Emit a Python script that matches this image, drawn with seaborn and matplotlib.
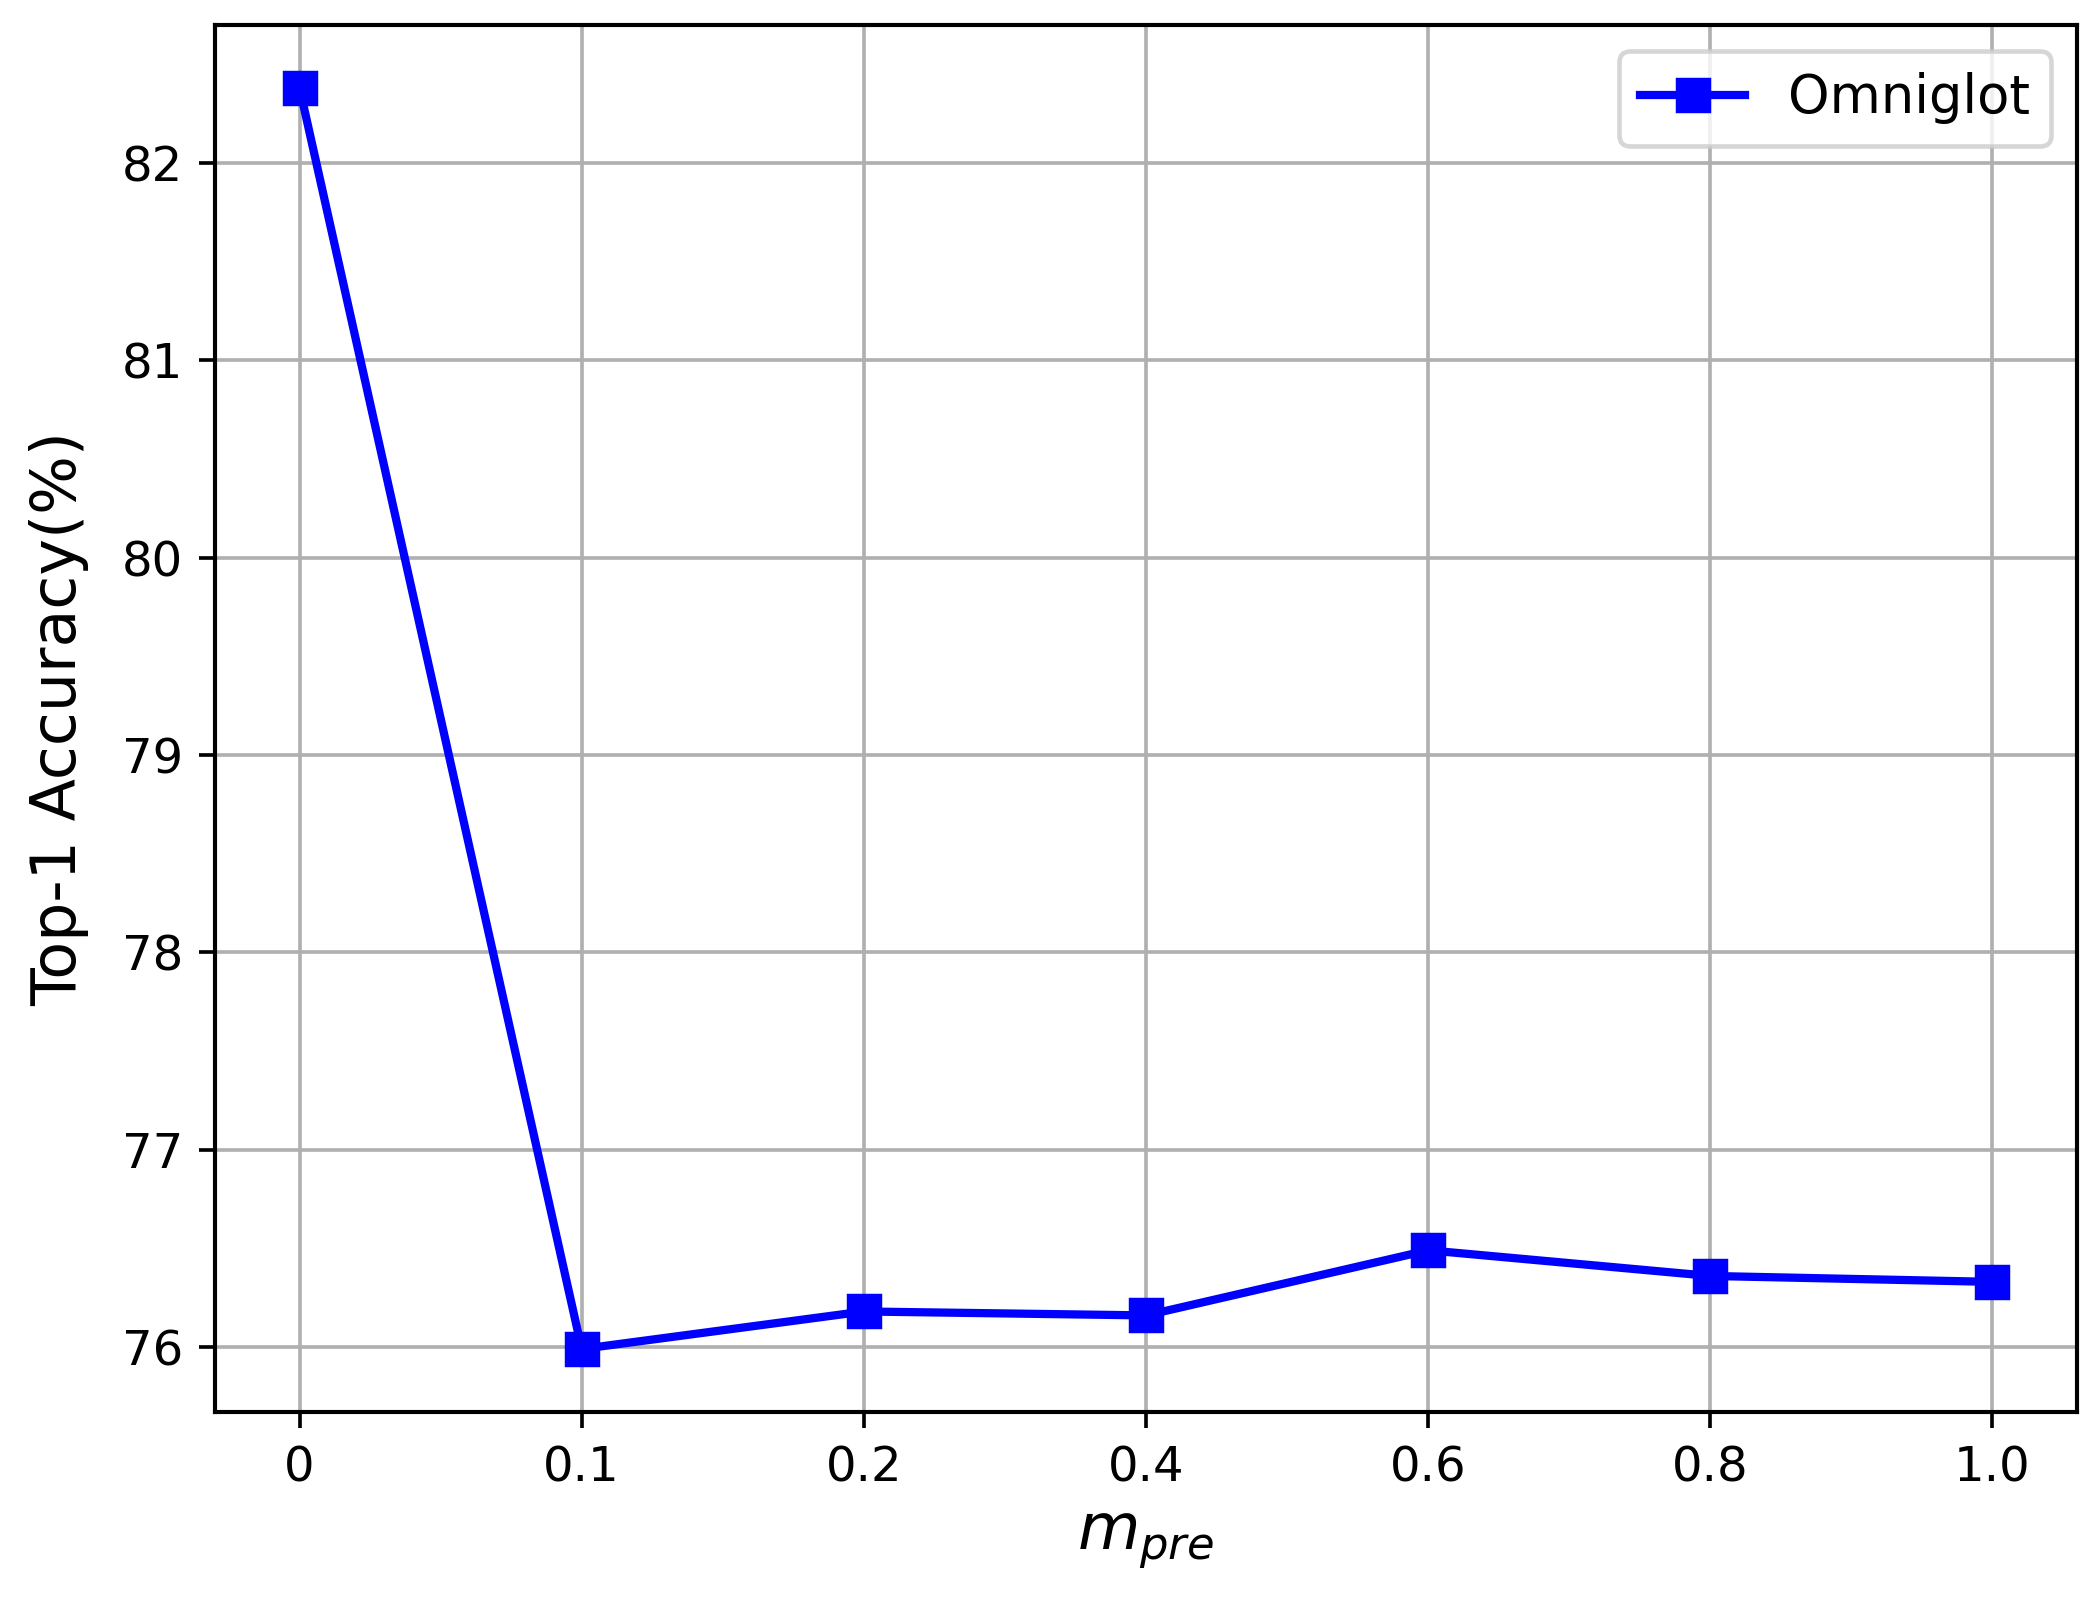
import matplotlib
matplotlib.use("Agg")
import matplotlib.pyplot as plt
import seaborn as sns
import pandas as pd
import numpy as np

# Data
x_labels = ["0", "0.1", "0.2", "0.4", "0.6", "0.8", "1.0"]
accuracy = [82.38, 75.99, 76.18, 76.16, 76.49, 76.36, 76.33]
y_ticks = [76, 77, 78, 79, 80, 81, 82]
series_name = "Omniglot"

df = pd.DataFrame({"pos": np.arange(len(x_labels)), "acc": accuracy, "dataset": series_name})

plt.rcParams["font.family"] = ["DejaVu Sans"]
fig = plt.figure(figsize=(2097 / 330, 1602 / 330), dpi=330)
ax = fig.add_axes([0.1025, 0.1186, 0.888, 0.8658])

sns.lineplot(data=df, x="pos", y="acc", ax=ax, color="blue", marker="s",
             markersize=7, linewidth=1.8, markeredgecolor="blue", sort=False,
             label=series_name, legend=False)

ax.set_xticks(np.arange(len(x_labels)))
ax.set_xticklabels(x_labels, fontsize=10.5)
ax.tick_params(axis="y", labelsize=10.5)
ax.set_yticks(y_ticks)
ax.grid(True, color="#b0b0b0", linewidth=0.8)
ax.set_axisbelow(True)
ax.set_xlabel("$m_{pre}$", fontsize=14)
ax.set_ylabel("Top-1 Accuracy(%)", fontsize=13.5, labelpad=7)
ax.legend(loc="upper right", fontsize=11.5)
for s in ax.spines.values():
    s.set_color("black")
    s.set_linewidth(0.9)

fig.savefig("out.png", dpi=330)
